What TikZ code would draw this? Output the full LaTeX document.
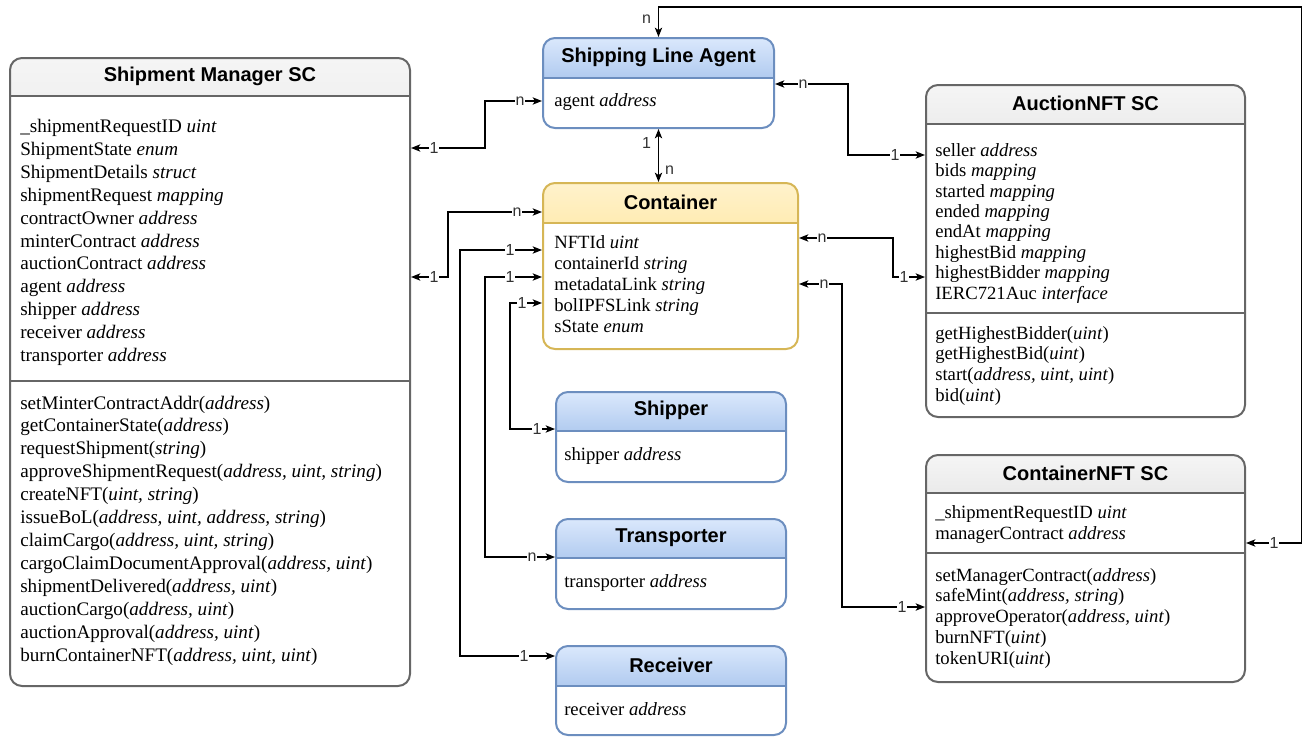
\documentclass[tikz,border=0pt]{standalone}
\usepackage{fontspec}
\setmainfont{Liberation Serif}
\setsansfont{Liberation Sans}
\usetikzlibrary{arrows.meta,calc}

% box themes: header gradient (top/bottom) and outline
\definecolor{grayTop}{HTML}{F5F5F5}
\definecolor{grayBot}{HTML}{B3B3B3}
\definecolor{grayLine}{HTML}{666666}
\definecolor{blueTop}{HTML}{DAE8FC}
\definecolor{blueBot}{HTML}{7EA6E0}
\definecolor{blueLine}{HTML}{6C8EBF}
\definecolor{yellowTop}{HTML}{FFF2CC}
\definecolor{yellowBot}{HTML}{FFD966}
\definecolor{yellowLine}{HTML}{D6B656}

\newcommand\ty[1]{\textit{#1}}

\tikzset{
  hdr/.code={\def\hdrh{#1}},
  theme/.code={\def\hdrtop{#1Top}\def\hdrbot{#1Bot}\def\hdrline{#1Line}\pgfkeysalso{draw=#1Line}},
  classbox/.style={theme=#1, fill=white, line width=1.5pt, rounded corners=9pt,
    anchor=north west, inner sep=0pt,
    path picture={
      \shade[sharp corners, top color=\hdrtop, bottom color=\hdrbot]
        (path picture bounding box.north west) rectangle
        ([yshift=-\hdrh]path picture bounding box.north east);
      \draw[sharp corners, line width=1.5pt, draw=\hdrline]
        ([yshift=-\hdrh]path picture bounding box.north west) --
        ([yshift=-\hdrh]path picture bounding box.north east);
    }},
  title/.style={font=\sffamily\bfseries\fontsize{15}{18}\selectfont, inner sep=0pt, anchor=center},
  body/.style={anchor=north west, inner sep=0pt, align=left, font=\fontsize{14}{#1}\selectfont},
  bigbody/.style={anchor=north west, inner sep=0pt, align=left, font=\fontsize{14.35}{#1}\selectfont},
  sepline/.style={line width=1.5pt, draw=grayLine},
  link/.style={line width=1.1pt,
    {Stealth[length=7pt,width=5.5pt,inset=1.8pt]}-{Stealth[length=7pt,width=5.5pt,inset=1.8pt]}},
  card/.style={font=\sffamily\fontsize{12}{14}\selectfont, fill=white, inner sep=0.6pt, text=black!80},
}

\begin{document}
\begin{tikzpicture}[x=0.75pt, y=-0.75pt]
\useasboundingbox (0,0) rectangle (1302,736);

% ---------- Shipment Manager SC ----------
\node[classbox=gray, hdr=28.5pt, minimum width=300pt, minimum height=471pt] (sm) at (9,57) {};
\node[title] (sm-title) at ($(sm.north)+(0,19)$) {Shipment Manager SC};
\draw[sepline] ($(sm.north west)+(0,324)$) -- ($(sm.north east)+(0,324)$);
\node[bigbody=17.18pt] (sm-attr) at (20,119) {%
\_shipmentRequestID \ty{uint}\\
ShipmentState \ty{enum}\\
ShipmentDetails \ty{struct}\\
shipmentRequest \ty{mapping}\\
contractOwner \ty{address}\\
minterContract \ty{address}\\
auctionContract \ty{address}\\
agent \ty{address}\\
shipper \ty{address}\\
receiver \ty{address}\\
transporter \ty{address}};
\node[bigbody=17.18pt] (sm-ops) at (20,395.5) {%
setMinterContractAddr(\ty{address})\\
getContainerState(\ty{address})\\
requestShipment(\ty{string})\\
approveShipmentRequest(\ty{address, uint, string})\\
createNFT(\ty{uint, string})\\
issueBoL(\ty{address, uint, address, string})\\
claimCargo(\ty{address, uint, string})\\
cargoClaimDocumentApproval(\ty{address, uint})\\
shipmentDelivered(\ty{address, uint})\\
auctionCargo(\ty{address, uint})\\
auctionApproval(\ty{address, uint})\\
burnContainerNFT(\ty{address, uint, uint})};

% ---------- Shipping Line Agent ----------
\node[classbox=blue, hdr=30pt, minimum width=173.25pt, minimum height=67.5pt] (sla) at (542,37) {};
\node[title] (sla-title) at ($(sla.north)+(0,20)$) {Shipping Line Agent};
\node[body=16pt] (sla-attr) at (554,93) {agent \ty{address}};

% ---------- Container ----------
\node[classbox=yellow, hdr=30pt, minimum width=191.25pt, minimum height=124.5pt] (ctr) at (542,182) {};
\node[title] (ctr-title) at ($(ctr.north)+(0,20)$) {Container};
\node[body=15.75pt] (ctr-attr) at (554,235) {%
NFTId \ty{uint}\\
containerId \ty{string}\\
metadataLink \ty{string}\\
bolIPFSLink \ty{string}\\
sState \ty{enum}};

% ---------- Shipper / Transporter / Receiver ----------
\node[classbox=blue, hdr=29.25pt, minimum width=172.5pt, minimum height=67.5pt] (shp) at (555,391) {};
\node[title] (shp-title) at ($(shp.north)+(0,19.5)$) {Shipper};
\node[body=16pt] (shp-attr) at (564,447) {shipper \ty{address}};

\node[classbox=blue, hdr=29.25pt, minimum width=172.5pt, minimum height=67.5pt] (trn) at (555,518) {};
\node[title] (trn-title) at ($(trn.north)+(0,19.5)$) {Transporter};
\node[body=16pt] (trn-attr) at (564,574) {transporter \ty{address}};

\node[classbox=blue, hdr=30pt, minimum width=172.5pt, minimum height=66.75pt] (rcv) at (555,645) {};
\node[title] (rcv-title) at ($(rcv.north)+(0,20)$) {Receiver};
\node[body=16pt] (rcv-attr) at (564,702) {receiver \ty{address}};

% ---------- AuctionNFT SC ----------
\node[classbox=gray, hdr=29.25pt, minimum width=239.25pt, minimum height=249pt] (auc) at (925,84) {};
\node[title] (auc-title) at ($(auc.north)+(0,19.5)$) {AuctionNFT SC};
\draw[sepline] ($(auc.north west)+(0,229)$) -- ($(auc.north east)+(0,229)$);
\node[body=15.32pt] (auc-attr) at (935,143) {%
seller \ty{address}\\
bids \ty{mapping}\\
started \ty{mapping}\\
ended \ty{mapping}\\
endAt \ty{mapping}\\
highestBid \ty{mapping}\\
highestBidder \ty{mapping}\\
IERC721Auc \ty{interface}};
\node[body=15.5pt] (auc-ops) at (935,326) {%
getHighestBidder(\ty{uint})\\
getHighestBid(\ty{uint})\\
start(\ty{address, uint, uint})\\
bid(\ty{uint})};

% ---------- ContainerNFT SC ----------
\node[classbox=gray, hdr=28.5pt, minimum width=239.25pt, minimum height=170.25pt] (cnf) at (925,454) {};
\node[title] (cnf-title) at ($(cnf.north)+(0,19)$) {ContainerNFT SC};
\draw[sepline] ($(cnf.north west)+(0,99)$) -- ($(cnf.north east)+(0,99)$);
\node[body=15.75pt] (cnf-attr) at (935,505) {%
\_shipmentRequestID \ty{uint}\\
managerContract \ty{address}};
\node[body=15.56pt] (cnf-ops) at (935,568) {%
setManagerContract(\ty{address})\\
safeMint(\ty{address, string})\\
approveOperator(\ty{address, uint})\\
burnNFT(\ty{uint})\\
tokenURI(\ty{uint})};

% ---------- connection points ----------
\coordinate (smA)  at ($(sm.north east)+(0,91)$);
\coordinate (smB)  at ($(sm.north east)+(0,220)$);
\coordinate (slaA) at ($(sla.north west)+(0,64)$);
\coordinate (slaB) at ($(sla.north east)+(0,47)$);
\coordinate (ctrA) at ($(ctr.north west)+(0,30)$);
\coordinate (ctrB) at ($(ctr.north west)+(0,68)$);
\coordinate (ctrC) at ($(ctr.north west)+(0,95)$);
\coordinate (ctrD) at ($(ctr.north west)+(0,121)$);
\coordinate (ctrE) at ($(ctr.north east)+(0,56)$);
\coordinate (ctrF) at ($(ctr.north east)+(0,102)$);
\coordinate (shpA) at ($(shp.north west)+(0,38)$);
\coordinate (trnA) at ($(trn.north west)+(0,39)$);
\coordinate (rcvA) at ($(rcv.north west)+(0,11)$);
\coordinate (aucA) at ($(auc.north west)+(0,71)$);
\coordinate (aucB) at ($(auc.north west)+(0,193)$);
\coordinate (cnfA) at ($(cnf.north west)+(0,153)$);
\coordinate (cnfB) at ($(cnf.north east)+(0,89)$);

% ---------- connectors ----------
\draw[link] (smA) -| ($(slaA)+(-57,0)$) -- (slaA);
\node[card] (l1a) at ($(smA)+(23,0)$) {1};
\node[card] (l1b) at ($(slaA)+(-22,0)$) {n};

\draw[link] (sla.south) -- (sla.south |- ctr.north);
\node[card, fill=none] (l2a) at ($(sla.south)+(-12,14)$) {1};
\node[card, fill=none] (l2b) at ($(sla.south |- ctr.north)+(11,-12)$) {n};

\draw[link] (ctrA) -| ($(smB)+(37,0)$) -- (smB);
\node[card] (l3a) at ($(ctrA)+(-25,0)$) {n};
\node[card] (l3b) at ($(smB)+(23,0)$) {1};

\draw[link] (ctrB) -| ($(rcvA)+(-95,0)$) -- (rcvA);
\node[card] (l4a) at ($(ctrB)+(-32,0)$) {1};
\node[card] (l4b) at ($(rcvA)+(-31,0)$) {1};

\draw[link] (ctrC) -| ($(trnA)+(-70,0)$) -- (trnA);
\node[card] (l5a) at ($(ctrC)+(-32,0)$) {1};
\node[card] (l5b) at ($(trnA)+(-23,0)$) {n};

\draw[link] (ctrD) -| ($(shpA)+(-45,0)$) -- (shpA);
\node[card] (l6a) at ($(ctrD)+(-20,0)$) {1};
\node[card] (l6b) at ($(shpA)+(-18,0)$) {1};

\draw[link] (ctrE) -| ($(aucB)+(-32,0)$) -- (aucB);
\node[card] (l7a) at ($(ctrE)+(23,0)$) {n};
\node[card] (l7b) at ($(aucB)+(-21,0)$) {1};

\draw[link] (ctrF) -| ($(cnfA)+(-83,0)$) -- (cnfA);
\node[card] (l8a) at ($(ctrF)+(25,0)$) {n};
\node[card] (l8b) at ($(cnfA)+(-23,0)$) {1};

\draw[link] (slaB) -| ($(aucA)+(-77,0)$) -- (aucA);
\node[card] (l9a) at ($(slaB)+(28,0)$) {n};
\node[card] (l9b) at ($(aucA)+(-30,0)$) {1};

\draw[link] (cnfB) -- ++(56,0) |- ($(sla.north)+(0,-30)$) -- (sla.north);
\node[card] (l10a) at ($(cnfB)+(28,0)$) {1};
\node[card, fill=none] (l10b) at ($(sla.north)+(-12,-18)$) {n};
\end{tikzpicture}
\end{document}
